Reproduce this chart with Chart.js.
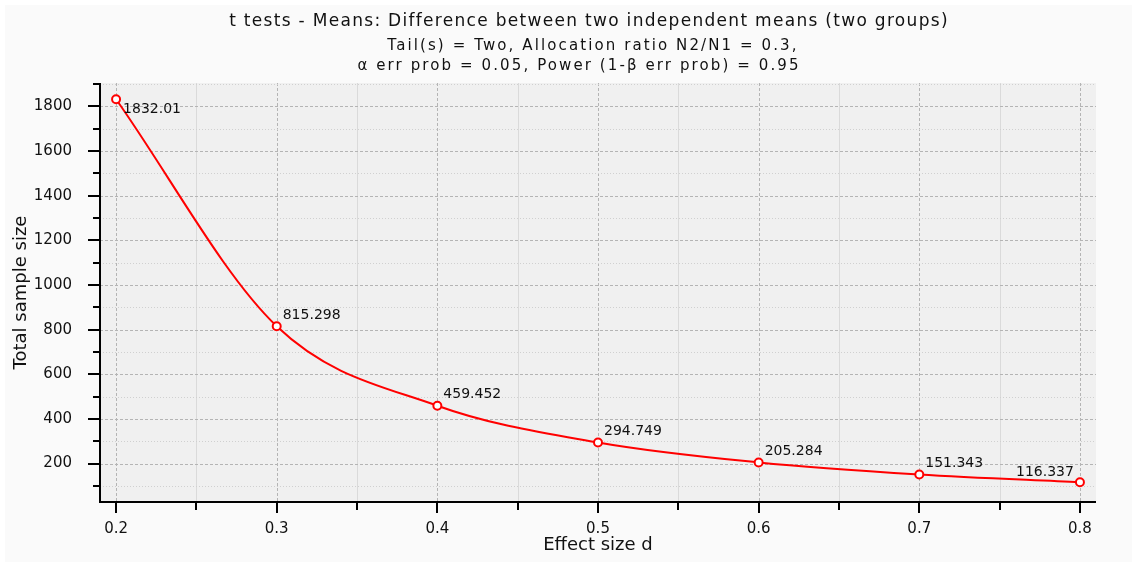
<!DOCTYPE html>
<html lang="en">
<head>
  <meta charset="UTF-8" />
  <title>t tests - Total sample size vs effect size</title>
  <script src="https://cdn.jsdelivr.net/npm/chart.js"></script>
  <style>
    * {
      margin: 0;
      padding: 0;
      box-sizing: border-box;
    }

    html, body {
      background: #ffffff;
      width: 1132px;
      height: 562px;
      overflow: hidden;
    }

    canvas {
      display: block;
    }
  </style>
</head>
<body>

  <canvas id="powerChart" width="1132" height="562"></canvas>

  <script>
    const effectSizes = [0.2, 0.3, 0.4, 0.5, 0.6, 0.7, 0.8];
    const sampleSizes = [1832.01, 815.298, 459.452, 294.749, 205.284, 151.343, 116.337];
    const sizeLabels = ['1832.01', '815.298', '459.452', '294.749', '205.284', '151.343', '116.337'];

    const titleText = 't tests - Means: Difference between two independent means (two groups)';
    const subtitleLines = [
      'Tail(s) = Two, Allocation ratio N2/N1 = 0.3,',
      '\u03b1 err prob = 0.05, Power (1-\u03b2 err prob) = 0.95'
    ];

    const FONT = "'DejaVu Sans', sans-serif";

    // backgrounds, headings, gridlines (major dashed, minor dotted), axes, point labels
    const gridPlugin = {
      id: 'gridPlugin',
      beforeDraw(chart) {
        const { ctx, chartArea: a } = chart;
        ctx.save();
        ctx.fillStyle = '#ffffff';
        ctx.fillRect(0, 0, chart.width, chart.height);
        ctx.fillStyle = '#fafafa';
        ctx.fillRect(5, 5, chart.width - 5, chart.height - 5);
        ctx.fillStyle = '#f0f0f0';
        ctx.fillRect(a.left, a.top, a.right - a.left, a.bottom - a.top);

        // headings, spaced out like the original
        ctx.fillStyle = '#111111';
        ctx.textAlign = 'center';
        ctx.textBaseline = 'middle';
        ctx.letterSpacing = '1.3px';
        ctx.font = '17px ' + FONT;
        ctx.fillText(titleText, 589, 22);
        ctx.letterSpacing = '2.1px';
        ctx.font = '15px ' + FONT;
        ctx.fillText(subtitleLines[0], 593, 46);
        ctx.fillText(subtitleLines[1], 579, 66);
        ctx.letterSpacing = '0px';
        ctx.restore();
      },
      beforeDatasetsDraw(chart) {
        const { ctx, chartArea: a, scales } = chart;
        ctx.save();
        ctx.lineWidth = 1;

        scales.x.ticks.forEach(t => {
          const px = Math.round(scales.x.getPixelForValue(t.value)) + 0.5;
          const major = Math.round(t.value * 100) % 10 === 0;
          ctx.strokeStyle = major ? '#b4b4b4' : '#dadada';
          ctx.setLineDash(major ? [3, 2] : []);
          ctx.beginPath();
          ctx.moveTo(px, a.top);
          ctx.lineTo(px, a.bottom);
          ctx.stroke();
        });

        scales.y.ticks.forEach(t => {
          const py = Math.round(scales.y.getPixelForValue(t.value)) + 0.5;
          const major = Math.round(t.value) % 200 === 0;
          ctx.strokeStyle = major ? '#b4b4b4' : '#d0d0d0';
          ctx.setLineDash(major ? [3, 2] : [1, 2]);
          ctx.beginPath();
          ctx.moveTo(a.left, py);
          ctx.lineTo(a.right, py);
          ctx.stroke();
        });

        ctx.restore();
      },
      afterDatasetsDraw(chart) {
        const { ctx, chartArea: a, scales } = chart;
        ctx.save();

        // axis lines and tick marks
        ctx.strokeStyle = '#000000';
        ctx.lineWidth = 2;
        ctx.beginPath();
        ctx.moveTo(a.left, a.top);
        ctx.lineTo(a.left, a.bottom);
        ctx.moveTo(a.left - 1, a.bottom);
        ctx.lineTo(a.right, a.bottom);

        scales.y.ticks.forEach(t => {
          const py = Math.round(scales.y.getPixelForValue(t.value));
          const len = Math.round(t.value) % 200 === 0 ? 12 : 7;
          ctx.moveTo(a.left, py);
          ctx.lineTo(a.left - len, py);
        });
        scales.x.ticks.forEach(t => {
          const px = Math.round(scales.x.getPixelForValue(t.value));
          const len = Math.round(t.value * 100) % 10 === 0 ? 11 : 8;
          ctx.moveTo(px, a.bottom);
          ctx.lineTo(px, a.bottom + len);
        });
        ctx.stroke();

        // value labels next to each point
        ctx.fillStyle = '#111111';
        ctx.font = '14px ' + FONT;
        ctx.textBaseline = 'middle';
        const meta = chart.getDatasetMeta(0);
        meta.data.forEach((pt, i) => {
          const last = i === meta.data.length - 1;
          if (i === 0) {
            ctx.textAlign = 'left';
            ctx.fillText(sizeLabels[i], pt.x + 7, pt.y + 10);
          } else if (last) {
            ctx.textAlign = 'right';
            ctx.fillText(sizeLabels[i], pt.x - 6, pt.y - 10);
          } else {
            ctx.textAlign = 'left';
            ctx.fillText(sizeLabels[i], pt.x + 6, pt.y - 11);
          }
        });

        ctx.restore();
      }
    };

    const ctx = document.getElementById('powerChart').getContext('2d');
    const powerChart = new Chart(ctx, {
      type: 'line',
      data: {
        datasets: [{
          label: 'Total sample size',
          data: effectSizes.map((x, i) => ({ x: x, y: sampleSizes[i] })),
          borderColor: '#ff0000',
          borderWidth: 2,
          cubicInterpolationMode: 'monotone',
          pointRadius: 4,
          pointBorderWidth: 2,
          pointBackgroundColor: '#ffffff',
          pointBorderColor: '#ff0000',
          fill: false
        }]
      },
      options: {
        responsive: false,
        animation: false,
        devicePixelRatio: 1,
        layout: {
          padding: { left: 0, right: 36, top: 83, bottom: 0 }
        },
        plugins: {
          legend: { display: false },
          tooltip: { enabled: false },
          title: { display: false }
        },
        scales: {
          x: {
            type: 'linear',
            min: 0.19,
            max: 0.81,
            afterFit: scale => { scale.height = 60; },
            grid: { display: false },
            border: { display: false },
            ticks: {
              stepSize: 0.05,
              includeBounds: false,
              autoSkip: false,
              maxRotation: 0,
              padding: 10,
              color: '#111111',
              font: { family: FONT, size: 15 },
              callback: v => Math.round(v * 100) % 10 === 0 ? v.toFixed(1) : ''
            },
            title: {
              display: true,
              text: 'Effect size d',
              color: '#111111',
              font: { family: FONT, size: 18 },
              padding: { top: 0, bottom: 6 }
            }
          },
          y: {
            type: 'linear',
            min: 28,
            max: 1905,
            afterFit: scale => { scale.width = 100; },
            grid: { display: false },
            border: { display: false },
            ticks: {
              stepSize: 100,
              includeBounds: false,
              autoSkip: false,
              padding: 20,
              color: '#111111',
              font: { family: FONT, size: 15 },
              callback: v => Math.round(v) % 200 === 0 ? String(v) : ''
            },
            title: {
              display: true,
              text: 'Total sample size',
              color: '#111111',
              font: { family: FONT, size: 18 },
              padding: { top: 11, bottom: 0 }
            }
          }
        }
      },
      plugins: [gridPlugin]
    });
  </script>

</body>
</html>
